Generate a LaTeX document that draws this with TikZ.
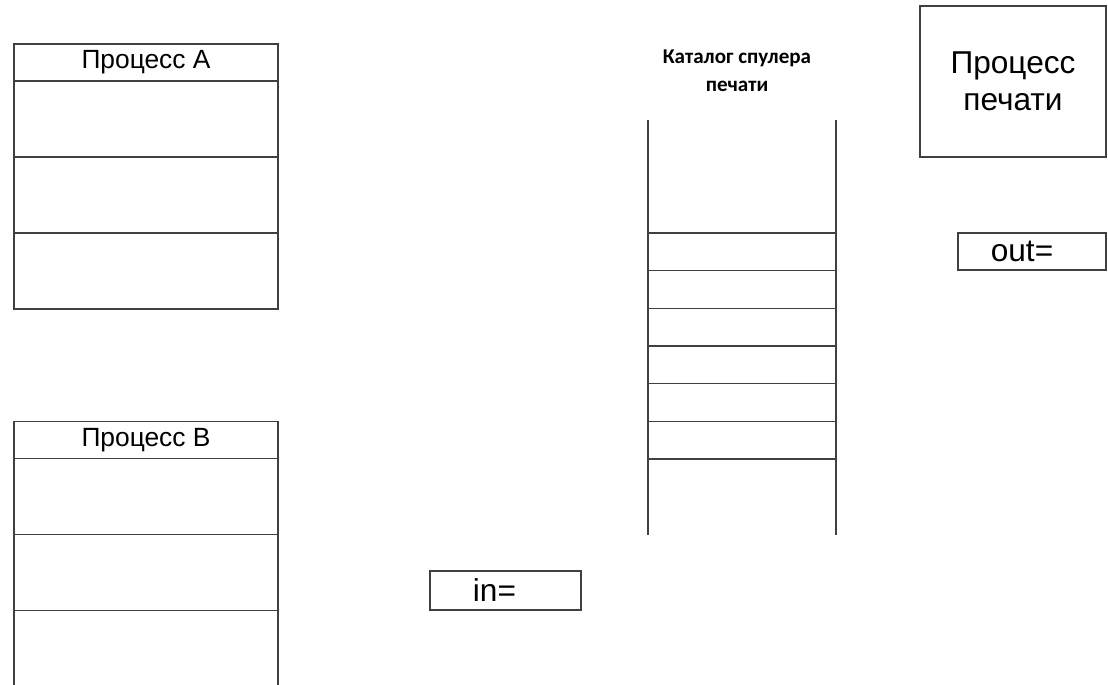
\documentclass[tikz,border=0pt]{standalone}
\usepackage{fontspec}
\setmainfont{Liberation Sans}
\newfontfamily\catfont{Carlito}
\usetikzlibrary{positioning}

\begin{document}
\begin{tikzpicture}[x=0.02cm, y=-0.02cm, line width=0.9pt,
	hd/.style={rectangle, draw=black!75, minimum width=5.28cm, minimum height=0.74cm, inner sep=0pt, outer sep=0pt, font=\fontsize{15}{18}\selectfont},
	cell/.style={rectangle, draw=black!75, minimum width=5.28cm, minimum height=1.52cm, inner sep=0pt, outer sep=0pt},
	slot/.style={rectangle, draw=black!75, minimum width=3.76cm, minimum height=0.7533cm, inner sep=0pt, outer sep=0pt},
	bx/.style={rectangle, draw=black!75, inner sep=0pt, outer sep=0pt},
	txt/.style={inner sep=0pt, font=\fontsize{18}{21}\selectfont},
	rail/.style={draw=black!75}]
	\useasboundingbox (0,0) rectangle (1108,684);
	% Процесс A
	\node[hd] (pa) at (146,62.5) {Процесс A};
	\node[cell, below=0pt of pa] (pa1) {};
	\node[cell, below=0pt of pa1] (pa2) {};
	\node[cell, below=0pt of pa2] (pa3) {};
	% Процесс B
	\node[hd] (pb) at (146,440) {Процесс B};
	\node[cell, below=0pt of pb] (pb1) {};
	\node[cell, below=0pt of pb1] (pb2) {};
	\node[cell, below=0pt of pb2] (pb3) {};
	% каталог спулера
	\node[font=\catfont\bfseries\fontsize{12}{16}\selectfont, align=center] (cat) at (737,71) {Каталог спулера\\печати};
	\coordinate (r1t) at (648,120); \coordinate (r1b) at (648,535);
	\coordinate (r2t) at (836,120); \coordinate (r2b) at (836,535);
	\draw[rail] (r1t) -- (r1b); \draw[rail] (r2t) -- (r2b);
	\foreach \i in {1,...,6}
		\node[slot] (s\i) at (742,{233+37.67*(\i-0.5)}) {};
	% процесс печати
	\node[bx, minimum width=3.72cm, minimum height=3.02cm, font=\fontsize{18}{21}\selectfont, align=center] (pp) at (1013,81.5) {Процесс\\печати};
	\node[bx, minimum width=2.96cm, minimum height=0.74cm] (outb) at (1032,251.5) {};
	\node[txt] (outt) at (1022,251.5) {out=};
	\node[bx, minimum width=3.02cm, minimum height=0.78cm] (inb) at (505.5,590.5) {};
	\node[txt] (intt) at (494.5,590.5) {in=};
\end{tikzpicture}
\end{document}
